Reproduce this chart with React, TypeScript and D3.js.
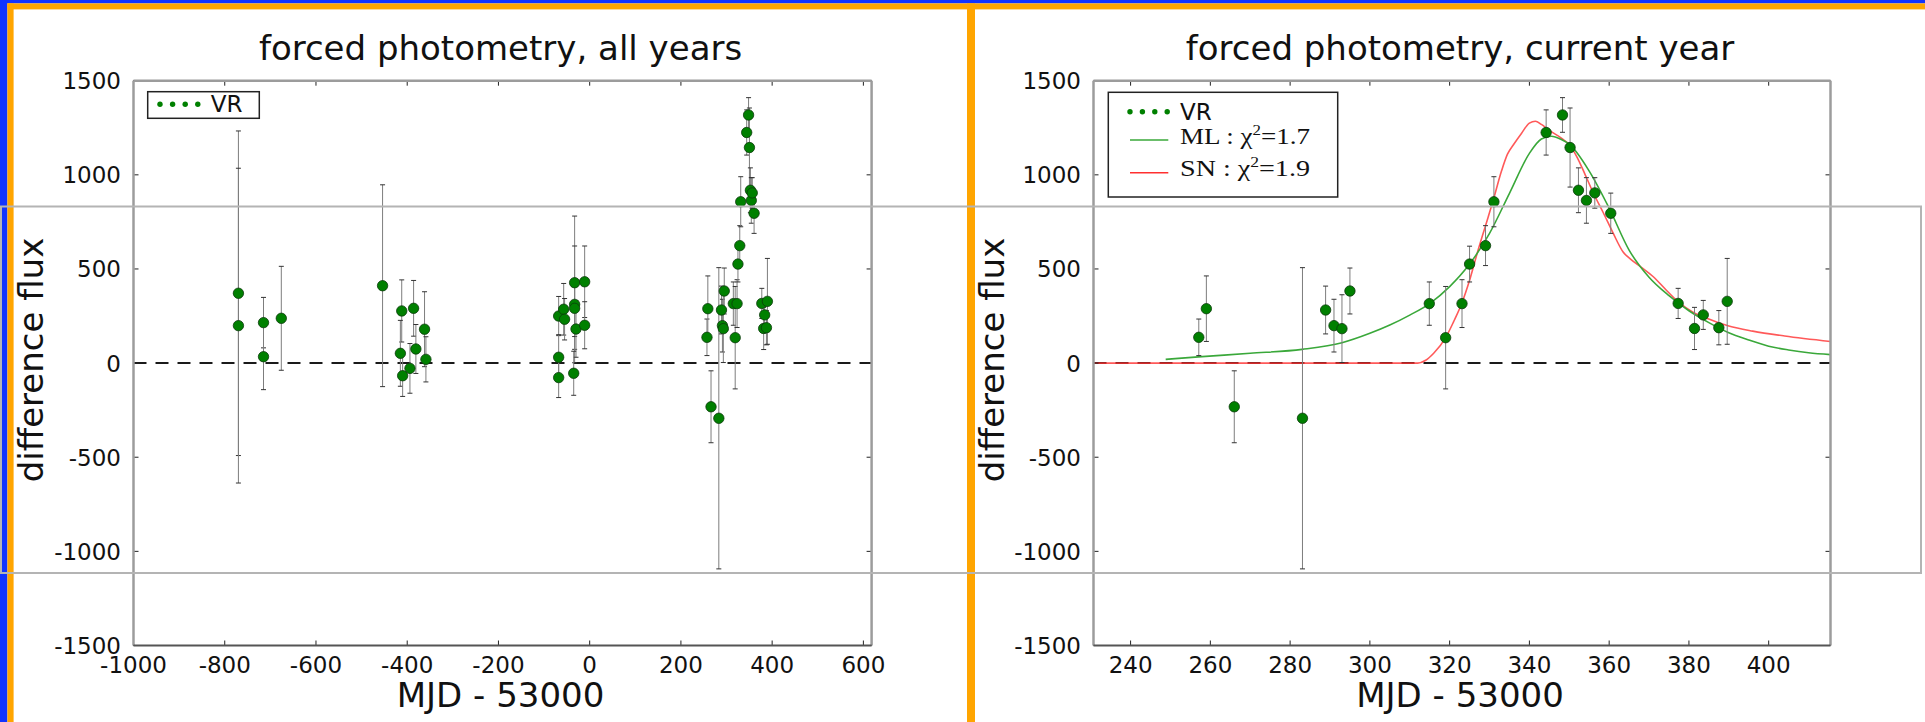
import React from "react";
import * as d3 from "d3";

// Earlier seasons: MJD - 53000, difference flux and 1-sigma error
const pastDays = [-770, -770, -715, -715, -676, -454, -412, -415, -410, -386, -381, -394, -362, -359, -68, -57, -55, -68, -68, -33, -33, -33, -30, -35, -11, -11];
const pastFlux = [371, 199, 215, 34, 238, 411, 277, 52, -67, 291, 75, -28, 180, 20, 250, 286, 233, 31, -77, 427, 312, 291, 181, -54, 432, 201];
const pastErr = [862, 836, 134, 175, 276, 536, 165, 175, 110, 148, 130, 132, 199, 120, 104, 137, 110, 120, 106, 354, 310, 150, 150, 117, 190, 125];

// Current season
const curDays = [257.1, 259.0, 266.0, 283.1, 288.9, 291.0, 293.0, 295.0, 314.9, 319.0, 323.1, 325.0, 329.0, 331.1, 344.2, 348.3, 350.2, 352.3, 354.3, 356.4, 360.4, 377.3, 381.4, 383.6, 387.5, 389.6];
const curFlux = [137, 289, -232, -293, 282, 199, 183, 383, 316, 135, 316, 526, 624, 857, 1225, 1318, 1145, 918, 864, 904, 796, 317, 184, 256, 188, 328];
const curErr = [97, 174, 191, 800, 127, 140, 180, 122, 115, 272, 127, 95, 106, 133, 120, 92, 210, 119, 121, 81, 107, 80, 112, 77, 91, 228];

// Model light curves
const mlDays = [248.8, 257, 270, 283, 293, 300, 305, 310, 315, 320, 325, 330, 335, 340, 343, 345.5, 348, 350, 355, 360, 365, 370, 375, 380, 385, 390, 395, 400, 405, 410, 415.5];
const mlFlux = [20, 33, 52, 73, 108, 158, 202, 255, 316, 406, 526, 689, 902, 1114, 1190, 1205, 1188, 1163, 1020, 823, 600, 456, 358, 278, 215, 161, 123, 90, 70, 55, 45];
const snDays = [230.7, 312, 314, 316, 319, 321, 323, 325, 327, 329, 331, 333, 334.5, 336, 338, 340, 341.5, 343, 345, 348, 350, 352, 354, 356, 358.5, 361, 363.5, 365.5, 368, 371, 374, 377.5, 381, 384, 390, 396, 404, 415.5];
const snFlux = [0, 0, 15, 52, 135, 220, 315, 440, 590, 730, 870, 1020, 1110, 1160, 1220, 1275, 1285, 1268, 1236, 1195, 1160, 1092, 1000, 905, 800, 690, 590, 550, 510, 460, 395, 322, 270, 242, 197, 170, 144, 115];

// Axis ticks
const allYearsTicks = [-1000, -800, -600, -400, -200, 0, 200, 400, 600];
const currentTicks = [240, 260, 280, 300, 320, 340, 360, 380, 400];
const fluxTicks = [-1500, -1000, -500, 0, 500, 1000, 1500];

const SANS = "'DejaVu Sans', sans-serif";
const SERIF = "'Liberation Serif', 'DejaVu Serif', serif";
const GREEN = "#008000";
const ML_COLOR = "#3aa83a";
const SN_COLOR = "#ff3030";

const y = d3.scaleLinear().domain([-1500, 1500]).range([645.5, 80.7]);

type PanelProps = {
  id: string;
  x: d3.ScaleLinear<number, number>;
  xTicks: number[];
  title: string;
  days: number[];
  flux: number[];
  err: number[];
  models: boolean;
  ylabelX: number;
};

function Panel({ id, x, xTicks, title, days, flux, err, models, ylabelX }: PanelProps) {
  const [x0, x1] = x.range();
  const [yb, yt] = y.range();
  const cx = (x0 + x1) / 2;
  const line = d3
    .line<[number, number]>()
    .x((d) => x(d[0]))
    .y((d) => y(d[1]))
    .curve(d3.curveMonotoneX);
  const mlPath = line(mlDays.map((d, i) => [d, mlFlux[i]] as [number, number])) || "";
  const snPath = line(snDays.map((d, i) => [d, snFlux[i]] as [number, number])) || "";
  const clip = `clip-${id}`;
  const legendX = x0 + (models ? 14.8 : 14.2);
  const legendY = 92;
  return (
    <g>
      <defs>
        <clipPath id={clip}>
          <rect x={x0} y={yt} width={x1 - x0} height={yb - yt} />
        </clipPath>
      </defs>
      <text x={cx - 2} y={60} fontFamily={SANS} fontSize={34} textAnchor="middle" fill="#111">
        {title}
      </text>
      <g clipPath={`url(#${clip})`}>
        <line x1={x0} x2={x1} y1={y(0)} y2={y(0)} stroke="#1a1a1a" strokeWidth={2} strokeDasharray="13,9" />
        {models && (
          <>
            <path d={snPath} fill="none" stroke={SN_COLOR} strokeOpacity={0.8} strokeWidth={1.6} />
            <path d={mlPath} fill="none" stroke={ML_COLOR} strokeWidth={1.6} />
          </>
        )}
        {days.map((d, i) => {
          const px = x(d);
          const top = y(flux[i] + err[i]);
          const bot = y(flux[i] - err[i]);
          return (
            <g key={`e${i}`}>
              <line x1={px} x2={px} y1={top} y2={bot} stroke="#7d7d7d" strokeWidth={1} />
              <line x1={px - 2.5} x2={px + 2.5} y1={top} y2={top} stroke="#333" strokeWidth={1} />
              <line x1={px - 2.5} x2={px + 2.5} y1={bot} y2={bot} stroke="#333" strokeWidth={1} />
            </g>
          );
        })}
        {days.map((d, i) => (
          <circle key={`p${i}`} cx={x(d)} cy={y(flux[i])} r={5.2} fill={GREEN} stroke="#0b3a0b" strokeWidth={0.8} />
        ))}
      </g>
      {/* ticks on all four sides */}
      {xTicks.map((t) => (
        <g key={`xt${t}`}>
          <line x1={x(t)} x2={x(t)} y1={yb} y2={yb - 5} stroke="#222" strokeWidth={1} />
          <line x1={x(t)} x2={x(t)} y1={yt} y2={yt + 5} stroke="#222" strokeWidth={1} />
          <text x={x(t)} y={673} fontFamily={SANS} fontSize={23} textAnchor="middle" fill="#111">
            {t}
          </text>
        </g>
      ))}
      {fluxTicks.map((t) => (
        <g key={`yt${t}`}>
          <line x1={x0} x2={x0 + 5} y1={y(t)} y2={y(t)} stroke="#222" strokeWidth={1} />
          <line x1={x1} x2={x1 - 5} y1={y(t)} y2={y(t)} stroke="#222" strokeWidth={1} />
          <text x={x0 - 12.5} y={y(t) + 8.4} fontFamily={SANS} fontSize={23} textAnchor="end" fill="#111">
            {t}
          </text>
        </g>
      ))}
      {/* spines */}
      <line x1={x0} x2={x1} y1={yt} y2={yt} stroke="#9c9c9c" strokeWidth={2.5} />
      <line x1={x0} x2={x0} y1={yt} y2={yb} stroke="#9c9c9c" strokeWidth={2.5} />
      <line x1={x1} x2={x1} y1={yt} y2={yb} stroke="#9c9c9c" strokeWidth={2.5} />
      <line x1={x0} x2={x1} y1={yb} y2={yb} stroke="#555" strokeWidth={2} />
      {/* axis labels */}
      <text x={cx - 2} y={706.5} fontFamily={SANS} fontSize={34} textAnchor="middle" fill="#111">
        MJD - 53000
      </text>
      <text
        transform={`translate(${ylabelX},360) rotate(-90)`}
        fontFamily={SANS}
        fontSize={34}
        textAnchor="middle"
        fill="#111"
      >
        difference flux
      </text>
      {/* legend */}
      {models ? (
        <g>
          <rect x={legendX} y={legendY + 0.3} width={229.4} height={104.7} fill="#fff" stroke="#222" strokeWidth={1.5} />
          {[0, 1, 2, 3].map((k) => (
            <circle key={k} cx={legendX + 21.7 + k * 12.4} cy={111.7} r={2.7} fill={GREEN} />
          ))}
          <text x={legendX + 71.7} y={120} fontFamily={SANS} fontSize={23} fill="#111">
            VR
          </text>
          <line x1={legendX + 21.7} x2={legendX + 60} y1={140} y2={140} stroke={ML_COLOR} strokeWidth={1.6} />
          <text x={legendX + 71.7} y={143.5} fontFamily={SERIF} fontSize={24} fill="#111" textLength={130} lengthAdjust="spacingAndGlyphs">
            ML : χ<tspan dy={-9} fontSize={15}>2</tspan>
            <tspan dy={9}>=1.7</tspan>
          </text>
          <line x1={legendX + 21.7} x2={legendX + 60} y1={172.7} y2={172.7} stroke={SN_COLOR} strokeWidth={1.6} />
          <text x={legendX + 71.7} y={176} fontFamily={SERIF} fontSize={24} fill="#111" textLength={130} lengthAdjust="spacingAndGlyphs">
            SN : χ<tspan dy={-9} fontSize={15}>2</tspan>
            <tspan dy={9}>=1.9</tspan>
          </text>
        </g>
      ) : (
        <g>
          <rect x={legendX} y={legendY - 0.3} width={111.6} height={26.6} fill="#fff" stroke="#222" strokeWidth={1.5} />
          {[0, 1, 2, 3].map((k) => (
            <circle key={k} cx={legendX + 12.3 + k * 12.6} cy={104.3} r={2.7} fill={GREEN} />
          ))}
          <text x={legendX + 63} y={111.7} fontFamily={SANS} fontSize={23} fill="#111">
            VR
          </text>
        </g>
      )}
    </g>
  );
}

export default function App() {
  const xAll = d3.scaleLinear().domain([-1000, 618]).range([133.5, 871.6]);
  const xCur = d3.scaleLinear().domain([230.7, 415.5]).range([1093.5, 1830.5]);
  const allDays = [...pastDays, ...curDays];
  const allFlux = [...pastFlux, ...curFlux];
  const allErr = [...pastErr, ...curErr];
  return (
    <svg
      width={1925}
      height={722}
      style={{ position: "absolute", left: 0, top: 0, display: "block", background: "#fff" }}
    >
      <rect x={0} y={0} width={1925} height={722} fill="#fff" />
      {/* page frame */}
      <rect x={0} y={0} width={1925} height={3.4} fill="#1133ff" />
      <rect x={0} y={0} width={7.4} height={722} fill="#1133ff" />
      <rect x={7.4} y={3.4} width={1918} height={6} fill="#ffa500" />
      <rect x={7.4} y={3.4} width={6.2} height={719} fill="#ffa500" />
      <rect x={967} y={3.4} width={8} height={719} fill="#ffa500" />
      <Panel
        id="all"
        x={xAll}
        xTicks={allYearsTicks}
        title="forced photometry, all years"
        days={allDays}
        flux={allFlux}
        err={allErr}
        models={false}
        ylabelX={43}
      />
      <Panel
        id="cur"
        x={xCur}
        xTicks={currentTicks}
        title="forced photometry, current year"
        days={curDays}
        flux={curFlux}
        err={curErr}
        models={true}
        ylabelX={1004}
      />
      {/* selection outline */}
      <rect x={1} y={206.5} width={1920} height={366.5} fill="none" stroke="#b4b4b4" strokeWidth={2} />
    </svg>
  );
}
